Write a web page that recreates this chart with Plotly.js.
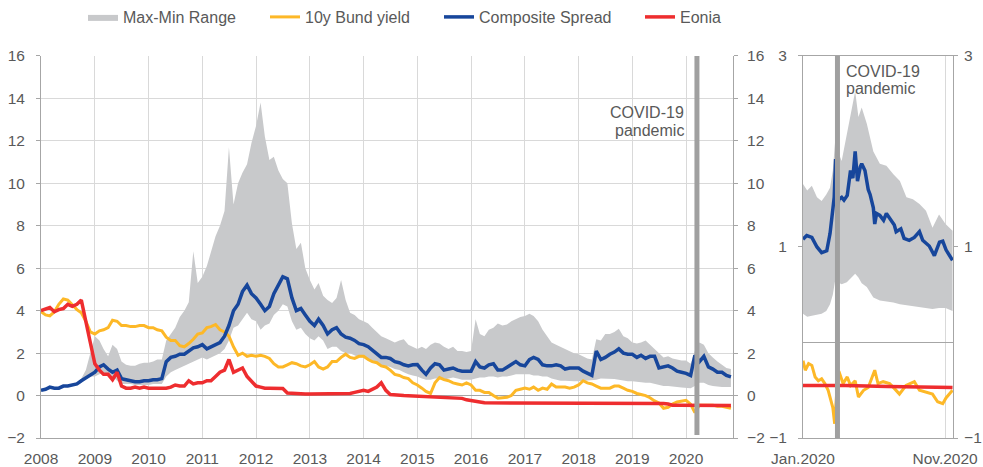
<!DOCTYPE html>
<html>
<head>
<meta charset="utf-8">
<script src="https://cdn.plot.ly/plotly-3.0.1.min.js"></script>
<style>html,body{margin:0;padding:0;background:#fff;}#chart{width:983px;height:467px;}</style>
</head>
<body>
<div id="chart"></div>
<script>
// ---------- DATA ----------
const months = [
'2008-01','2008-02','2008-03','2008-04','2008-05','2008-06','2008-07','2008-08','2008-09','2008-10','2008-11','2008-12',
'2009-01','2009-02','2009-03','2009-04','2009-05','2009-06','2009-07','2009-08','2009-09','2009-10','2009-11','2009-12',
'2010-01','2010-02','2010-03','2010-04','2010-05','2010-06','2010-07','2010-08','2010-09','2010-10','2010-11','2010-12',
'2011-01','2011-02','2011-03','2011-04','2011-05','2011-06','2011-07','2011-08','2011-09','2011-10','2011-11','2011-12',
'2012-01','2012-02','2012-03','2012-04','2012-05','2012-06','2012-07','2012-08','2012-09','2012-10','2012-11','2012-12',
'2013-01','2013-02','2013-03','2013-04','2013-05','2013-06','2013-07','2013-08','2013-09','2013-10','2013-11','2013-12',
'2014-01','2014-02','2014-03','2014-04','2014-05','2014-06','2014-07','2014-08','2014-09','2014-10','2014-11','2014-12',
'2015-01','2015-02','2015-03','2015-04','2015-05','2015-06','2015-07','2015-08','2015-09','2015-10','2015-11','2015-12',
'2016-01','2016-02','2016-03','2016-04','2016-05','2016-06','2016-07','2016-08','2016-09','2016-10','2016-11','2016-12',
'2017-01','2017-02','2017-03','2017-04','2017-05','2017-06','2017-07','2017-08','2017-09','2017-10','2017-11','2017-12',
'2018-01','2018-02','2018-03','2018-04','2018-05','2018-06','2018-07','2018-08','2018-09','2018-10','2018-11','2018-12',
'2019-01','2019-02','2019-03','2019-04','2019-05','2019-06','2019-07','2019-08','2019-09','2019-10','2019-11','2019-12',
'2020-01','2020-02','2020-03','2020-04','2020-05','2020-06','2020-07','2020-08','2020-09','2020-10','2020-11'];

const rangeMax = [
0.3,0.35,0.45,0.4,0.4,0.5,0.5,0.55,0.6,0.8,1.2,2.0,
2.8,2.6,2.2,1.85,2.4,2.2,1.6,1.45,1.4,1.4,1.5,1.55,
1.55,1.6,1.7,1.7,2.6,2.9,3.2,3.7,4.0,4.4,6.8,5.3,
5.6,6.1,6.8,7.5,8.0,8.7,11.7,9.0,10.0,10.5,10.9,11.9,
12.7,13.8,12.2,11.1,11.25,10.6,10.2,10.0,8.1,6.9,7.2,6.0,
5.45,5.0,5.3,4.7,4.5,4.36,4.6,5.45,4.5,3.9,3.8,3.6,
3.5,3.4,3.2,3.0,2.8,2.7,2.6,2.5,2.6,2.65,2.4,2.3,
2.2,2.3,2.2,2.4,2.5,2.45,2.3,2.2,2.3,2.1,2.1,2.05,
2.1,3.6,2.9,2.8,3.1,3.2,3.4,3.3,3.35,3.5,3.6,3.7,
3.75,3.85,3.75,3.5,3.1,2.8,2.5,2.4,2.3,2.2,2.1,2.0,
1.95,1.85,1.75,1.7,2.65,2.6,2.9,2.9,3.0,3.15,2.8,2.7,
2.5,2.45,2.5,2.6,2.4,2.2,2.0,1.8,1.85,1.75,1.7,1.65,
1.65,1.5,2.1,2.5,2.4,2.0,1.8,1.6,1.45,1.3,1.25];

const rangeMin = [
0.2,0.25,0.3,0.3,0.3,0.4,0.4,0.45,0.5,0.6,0.8,0.9,
0.9,1.0,1.05,0.95,0.9,0.7,0.55,0.55,0.55,0.5,0.5,0.5,
0.5,0.55,0.55,0.55,0.9,1.1,1.2,1.3,1.4,1.5,1.6,1.7,
1.8,1.7,1.8,1.9,2.0,2.2,2.6,3.2,3.3,3.6,3.9,3.6,
3.5,3.1,3.3,3.4,3.8,4.0,4.3,4.2,3.5,3.1,3.2,2.9,
2.7,2.6,2.8,2.6,2.2,2.3,2.3,2.1,2.0,2.0,1.9,1.8,
1.8,1.7,1.6,1.5,1.4,1.4,1.35,1.25,1.2,1.1,1.0,0.95,
0.9,0.8,0.75,0.75,0.8,0.8,0.75,0.8,0.85,0.8,0.75,0.75,
0.75,0.8,0.85,0.85,0.9,0.9,0.85,0.9,0.9,0.95,1.0,1.0,
1.0,1.0,0.95,0.95,0.9,0.9,0.8,0.75,0.7,0.7,0.68,0.68,
0.68,0.7,0.7,0.72,0.75,0.8,0.8,0.8,0.78,0.75,0.7,0.68,
0.68,0.65,0.62,0.6,0.6,0.55,0.5,0.45,0.45,0.44,0.4,0.38,
0.36,0.35,0.45,0.6,0.6,0.5,0.45,0.42,0.4,0.4,0.4];

const bundYield = [
3.95,3.8,3.75,3.95,4.3,4.55,4.5,4.25,4.05,3.9,3.5,3.0,
2.9,3.05,3.1,3.2,3.55,3.5,3.3,3.3,3.25,3.25,3.3,3.3,
3.2,3.2,3.1,3.05,2.75,2.6,2.6,2.35,2.3,2.45,2.65,2.9,
2.95,3.2,3.25,3.35,3.1,3.0,2.8,2.3,1.9,2.0,1.85,1.9,
1.85,1.9,1.85,1.75,1.5,1.35,1.35,1.45,1.55,1.5,1.4,1.35,
1.45,1.6,1.35,1.25,1.35,1.6,1.6,1.8,1.95,1.8,1.75,1.85,
1.85,1.7,1.6,1.55,1.4,1.35,1.2,1.0,0.95,0.85,0.8,0.6,
0.5,0.35,0.2,0.1,0.6,0.85,0.75,0.7,0.6,0.55,0.5,0.6,
0.5,0.25,0.25,0.15,0.15,0.0,-0.12,-0.1,-0.08,0.0,0.25,0.3,
0.35,0.3,0.4,0.25,0.35,0.3,0.55,0.4,0.4,0.4,0.35,0.4,
0.5,0.7,0.6,0.55,0.45,0.35,0.35,0.35,0.45,0.45,0.35,0.25,
0.2,0.1,0.05,0.0,-0.1,-0.25,-0.35,-0.6,-0.55,-0.4,-0.3,-0.25,
-0.22,-0.4,-0.8,-0.45,-0.45,-0.45,-0.45,-0.5,-0.5,-0.55,-0.6];

const compositeSpread = [
0.25,0.3,0.4,0.35,0.35,0.45,0.45,0.5,0.55,0.7,0.85,1.0,
1.1,1.35,1.45,1.25,1.1,1.2,0.8,0.75,0.7,0.65,0.65,0.7,
0.7,0.75,0.75,0.8,1.6,1.8,1.85,1.95,1.95,2.1,2.25,2.3,
2.4,2.2,2.3,2.4,2.5,2.8,3.3,4.0,4.3,4.9,5.2,4.8,
4.6,4.3,4.0,4.2,4.8,5.2,5.6,5.5,4.6,4.0,4.1,3.8,
3.5,3.3,3.6,3.3,2.9,3.1,3.2,2.9,2.75,2.7,2.6,2.45,
2.4,2.3,2.15,2.0,1.8,1.8,1.75,1.6,1.55,1.45,1.4,1.45,
1.46,1.2,1.0,1.3,1.5,1.45,1.2,1.25,1.3,1.2,1.15,1.15,
1.15,1.6,1.35,1.3,1.45,1.5,1.2,1.2,1.35,1.5,1.6,1.45,
1.4,1.7,1.8,1.7,1.45,1.4,1.4,1.45,1.4,1.25,1.3,1.3,
1.3,1.15,1.05,0.95,2.1,1.7,1.8,1.95,2.05,2.2,2.0,1.95,
1.95,1.8,1.9,1.75,1.85,1.85,1.3,1.35,1.4,1.3,1.15,1.1,
1.05,0.95,1.9,1.6,1.85,1.35,1.25,1.1,1.1,0.95,0.88];

const eonia = [
4.0,4.1,4.15,3.95,4.05,4.1,4.3,4.2,4.3,4.5,3.4,2.5,
1.5,1.2,1.0,1.0,0.75,1.1,0.45,0.35,0.35,0.4,0.35,0.4,
0.35,0.33,0.35,0.35,0.35,0.4,0.5,0.45,0.45,0.7,0.55,0.6,
0.6,0.7,0.7,0.9,1.1,1.2,1.7,1.1,1.2,1.3,0.9,0.7,
0.45,0.4,0.35,0.35,0.35,0.35,0.33,0.12,0.1,0.1,0.08,0.08,
0.08,0.08,0.07,0.08,0.08,0.09,0.09,0.09,0.08,0.1,0.15,0.2,
0.25,0.2,0.3,0.4,0.6,0.25,0.05,0.02,0.0,0.0,-0.01,-0.02,
-0.05,-0.05,-0.05,-0.07,-0.1,-0.12,-0.12,-0.12,-0.14,-0.14,-0.13,-0.2,
-0.22,-0.24,-0.3,-0.34,-0.34,-0.33,-0.33,-0.34,-0.34,-0.35,-0.35,-0.35,
-0.35,-0.35,-0.35,-0.35,-0.35,-0.35,-0.35,-0.35,-0.35,-0.35,-0.35,-0.35,
-0.36,-0.36,-0.36,-0.36,-0.36,-0.36,-0.36,-0.36,-0.36,-0.36,-0.36,-0.36,
-0.37,-0.37,-0.37,-0.37,-0.37,-0.37,-0.37,-0.37,-0.4,-0.45,-0.45,-0.45,
-0.45,-0.45,-0.45,-0.45,-0.46,-0.46,-0.46,-0.47,-0.47,-0.47,-0.47];

// 2020 zoom panel
const zoomRangeDates = ['2020-01-01','2020-01-10','2020-01-20','2020-01-31','2020-02-10','2020-02-20','2020-02-28','2020-03-05','2020-03-10','2020-03-16','2020-03-24','2020-04-04','2020-04-15','2020-04-22','2020-04-29','2020-05-06','2020-05-17','2020-05-31','2020-06-14','2020-06-28','2020-07-13','2020-07-27','2020-08-10','2020-08-24','2020-09-07','2020-09-21','2020-10-05','2020-10-19','2020-11-02','2020-11-17'];
const zoomRangeMax = [1.66,1.59,1.64,1.52,1.48,1.55,1.62,1.8,2.11,2.0,1.9,2.18,2.43,2.63,2.36,2.46,2.29,2.0,1.87,1.85,1.76,1.69,1.52,1.5,1.45,1.38,1.2,1.34,1.24,1.17];
const zoomRangeMin = [0.3,0.27,0.28,0.29,0.3,0.33,0.4,0.5,0.65,0.63,0.61,0.63,0.68,0.72,0.68,0.62,0.58,0.47,0.44,0.43,0.42,0.4,0.39,0.38,0.37,0.36,0.35,0.36,0.36,0.33];

const zoomSpreadDates = ['2020-01-01','2020-01-09','2020-01-20','2020-01-31','2020-02-10','2020-02-21','2020-02-28','2020-03-03','2020-03-08','2020-03-11','2020-03-14','2020-03-18','2020-03-24','2020-03-29','2020-04-05','2020-04-12','2020-04-17','2020-04-22','2020-04-27','2020-05-03','2020-05-06','2020-05-13','2020-05-20','2020-05-24','2020-05-31','2020-06-03','2020-06-07','2020-06-14','2020-06-22','2020-06-28','2020-07-08','2020-07-15','2020-07-19','2020-07-29','2020-08-05','2020-08-16','2020-08-27','2020-09-07','2020-09-14','2020-09-28','2020-10-09','2020-10-20','2020-10-27','2020-11-03','2020-11-17'];
const zoomSpread = [1.08,1.12,1.1,1.0,0.94,0.96,1.14,1.28,1.52,1.92,1.4,1.5,1.52,1.49,1.54,1.8,1.72,2.0,1.69,1.84,1.87,1.8,1.6,1.55,1.41,1.24,1.35,1.33,1.28,1.35,1.27,1.23,1.16,1.19,1.09,1.07,1.1,1.16,1.07,1.01,0.91,1.05,1.06,0.97,0.86];

const zoomBundDates = ['2020-01-01','2020-01-06','2020-01-13','2020-01-20','2020-01-27','2020-02-03','2020-02-10','2020-02-17','2020-02-24','2020-03-01','2020-03-05','2020-03-09','2020-03-13','2020-03-18','2020-03-20','2020-03-27','2020-04-05','2020-04-12','2020-04-22','2020-04-29','2020-05-10','2020-05-20','2020-06-03','2020-06-10','2020-06-21','2020-07-05','2020-07-15','2020-07-26','2020-08-09','2020-08-27','2020-09-07','2020-09-21','2020-10-05','2020-10-16','2020-10-27','2020-11-03','2020-11-10','2020-11-17'];
const zoomBund = [-0.19,-0.29,-0.22,-0.24,-0.36,-0.4,-0.38,-0.43,-0.5,-0.61,-0.68,-0.85,-0.55,-0.3,-0.33,-0.43,-0.36,-0.45,-0.4,-0.57,-0.5,-0.47,-0.29,-0.43,-0.41,-0.43,-0.48,-0.54,-0.45,-0.41,-0.5,-0.52,-0.54,-0.62,-0.64,-0.58,-0.54,-0.5];

const zoomEoniaDates = ['2020-01-01','2020-04-01','2020-07-01','2020-11-17'];
const zoomEonia = [-0.45,-0.45,-0.46,-0.47];

const yearTicks = ['2008-01-01','2009-01-01','2010-01-01','2011-01-01','2012-01-01','2013-01-01','2014-01-01','2015-01-01','2016-01-01','2017-01-01','2018-01-01','2019-01-01','2020-01-01'];
const yearLabels = ['2008','2009','2010','2011','2012','2013','2014','2015','2016','2017','2018','2019','2020'];
const mainYTicks = [-2,0,2,4,6,8,10,12,14,16];
const zoomXTicks = ['2020-01-01','2020-11-01'];
const zoomXLabels = ['Jan.2020','Nov.2020'];
const zoomYTicks = [-1,1,3];
const covidDate = '2020-03-15';
const seriesNames = ['Max-Min Range','10y Bund yield','Composite Spread','Eonia'];

// ---------- STYLE ----------
const GREY_FILL = '#c8c9cb', YELLOW = '#fdb827', BLUE = '#17469b', RED = '#ee2d2f';
const TXT = '#595959', AXIS = '#a6a6a6', GRID = '#d9d9d9';
const FONT = 'Liberation Sans, Arial, sans-serif';
const tickFont = {family: FONT, size: 15.5, color: TXT};

const traces = [
  {x: months, y: rangeMin, type: 'scatter', mode: 'lines', line: {width: 0, color: GREY_FILL}, showlegend: false, hoverinfo: 'skip', xaxis: 'x', yaxis: 'y'},
  {x: months, y: rangeMax, type: 'scatter', mode: 'lines', fill: 'tonexty', fillcolor: GREY_FILL, line: {width: 0, color: GREY_FILL}, name: seriesNames[0], legendwidth: 137, xaxis: 'x', yaxis: 'y'},
  {x: months, y: bundYield, type: 'scatter', mode: 'lines', line: {width: 3, color: YELLOW}, name: seriesNames[1], legendwidth: 129, xaxis: 'x', yaxis: 'y'},
  {x: months, y: compositeSpread, type: 'scatter', mode: 'lines', line: {width: 3.5, color: BLUE}, name: seriesNames[2], legendwidth: 156, xaxis: 'x', yaxis: 'y'},
  {x: months, y: eonia, type: 'scatter', mode: 'lines', line: {width: 3.5, color: RED}, name: seriesNames[3], xaxis: 'x', yaxis: 'y'},

  {x: zoomRangeDates, y: zoomRangeMin, type: 'scatter', mode: 'lines', line: {width: 0, color: GREY_FILL}, showlegend: false, xaxis: 'x2', yaxis: 'y2'},
  {x: zoomRangeDates, y: zoomRangeMax, type: 'scatter', mode: 'lines', fill: 'tonexty', fillcolor: GREY_FILL, line: {width: 0, color: GREY_FILL}, showlegend: false, xaxis: 'x2', yaxis: 'y2'},
  {x: zoomBundDates, y: zoomBund, type: 'scatter', mode: 'lines', line: {width: 3, color: YELLOW}, showlegend: false, xaxis: 'x2', yaxis: 'y2'},
  {x: zoomSpreadDates, y: zoomSpread, type: 'scatter', mode: 'lines', line: {width: 3.5, color: BLUE}, showlegend: false, xaxis: 'x2', yaxis: 'y2'},
  {x: zoomEoniaDates, y: zoomEonia, type: 'scatter', mode: 'lines', line: {width: 3.5, color: RED}, showlegend: false, xaxis: 'x2', yaxis: 'y2'},

  // empty traces so the right-hand mirror axes are drawn
  {x: [], y: [], type: 'scatter', mode: 'lines', showlegend: false, hoverinfo: 'skip', xaxis: 'x', yaxis: 'y3'},
  {x: [], y: [], type: 'scatter', mode: 'lines', showlegend: false, hoverinfo: 'skip', xaxis: 'x2', yaxis: 'y4'}
];

const yDom = [29/467, 412/467];
const layout = {
  width: 983, height: 467,
  margin: {l: 0, r: 0, t: 0, b: 0},
  paper_bgcolor: '#fff', plot_bgcolor: '#fff',
  font: {family: FONT, color: TXT},
  showlegend: true,
  legend: {orientation: 'h', traceorder: 'normal', x: 83/983, xanchor: 'left', y: 1 - 16/467, yanchor: 'middle',
           font: {family: FONT, size: 16, color: TXT}, bgcolor: 'rgba(0,0,0,0)', borderwidth: 0, itemwidth: 30},
  xaxis: {domain: [41/983, 733/983], anchor: 'y', type: 'date', range: ['2008-01-01', '2020-11-15'],
          tickmode: 'array', tickvals: yearTicks, ticktext: yearLabels, tickfont: tickFont, ticklabelstandoff: 6,
          showgrid: true, gridcolor: GRID, gridwidth: 1, showline: true, linecolor: AXIS, linewidth: 1,
          ticks: '', zeroline: false, fixedrange: true},
  yaxis: {domain: yDom, anchor: 'x', range: [-2, 16], tickmode: 'array', tickvals: mainYTicks, tickfont: tickFont,
          showgrid: true, gridcolor: GRID, gridwidth: 1, zeroline: true, zerolinecolor: AXIS, zerolinewidth: 1.5,
          showline: true, linecolor: AXIS, linewidth: 1, ticks: 'outside', ticklen: 4, tickcolor: AXIS, ticklabelstandoff: 8},
  yaxis3: {overlaying: 'y', side: 'right', anchor: 'x', range: [-2, 16], tickmode: 'array', tickvals: mainYTicks, tickfont: tickFont,
          showgrid: false, zeroline: false, showline: true, linecolor: AXIS, linewidth: 1, ticks: 'outside', ticklen: 4, tickcolor: AXIS, ticklabelstandoff: 6},
  xaxis2: {domain: [803/983, 953/983], anchor: 'y2', type: 'date', range: ['2020-01-01', '2020-11-18'],
          tickmode: 'array', tickvals: zoomXTicks, ticktext: zoomXLabels, tickfont: tickFont, ticklabelstandoff: 6,
          showgrid: true, gridcolor: GRID, showline: true, mirror: true, linecolor: AXIS, linewidth: 1, ticks: '', zeroline: false},
  yaxis2: {domain: yDom, anchor: 'x2', range: [-1, 3], tickmode: 'array', tickvals: zoomYTicks, tickfont: tickFont,
          showgrid: false, zeroline: true, zerolinecolor: AXIS, zerolinewidth: 1.5,
          showline: true, linecolor: AXIS, linewidth: 1, ticks: 'outside', ticklen: 4, tickcolor: AXIS, ticklabelstandoff: 8},
  yaxis4: {overlaying: 'y2', side: 'right', anchor: 'x2', range: [-1, 3], tickmode: 'array', tickvals: zoomYTicks, tickfont: tickFont,
          showgrid: false, zeroline: false, showline: true, linecolor: AXIS, linewidth: 1, ticks: 'outside', ticklen: 4, tickcolor: AXIS, ticklabelstandoff: 3},
  shapes: [
    {type: 'line', xref: 'x', yref: 'y', x0: covidDate, x1: covidDate, y0: -1.86, y1: 16, line: {color: '#a0a0a0', width: 5}},
    {type: 'line', xref: 'x2', yref: 'y2', x0: covidDate, x1: covidDate, y0: -1, y1: 3, line: {color: '#a0a0a0', width: 5}}
  ],
  annotations: [
    {text: 'COVID-19', xref: 'x', yref: 'paper', x: covidDate, y: 1 - 111.7/467, xanchor: 'right', yanchor: 'middle', xshift: -11, showarrow: false, font: {family: FONT, size: 16, color: TXT}},
    {text: 'pandemic', xref: 'x', yref: 'paper', x: covidDate, y: 1 - 130/467, xanchor: 'right', yanchor: 'middle', xshift: -11, showarrow: false, font: {family: FONT, size: 16, color: TXT}},
    {text: 'COVID-19', xref: 'x2', yref: 'paper', x: covidDate, y: 1 - 71/467, xanchor: 'left', yanchor: 'middle', xshift: 7, showarrow: false, font: {family: FONT, size: 16, color: TXT}},
    {text: 'pandemic', xref: 'x2', yref: 'paper', x: covidDate, y: 1 - 88/467, xanchor: 'left', yanchor: 'middle', xshift: 7, showarrow: false, font: {family: FONT, size: 16, color: TXT}}
  ]
};

Plotly.newPlot('chart', traces, layout, {displayModeBar: false, staticPlot: true});
</script>
</body>
</html>
